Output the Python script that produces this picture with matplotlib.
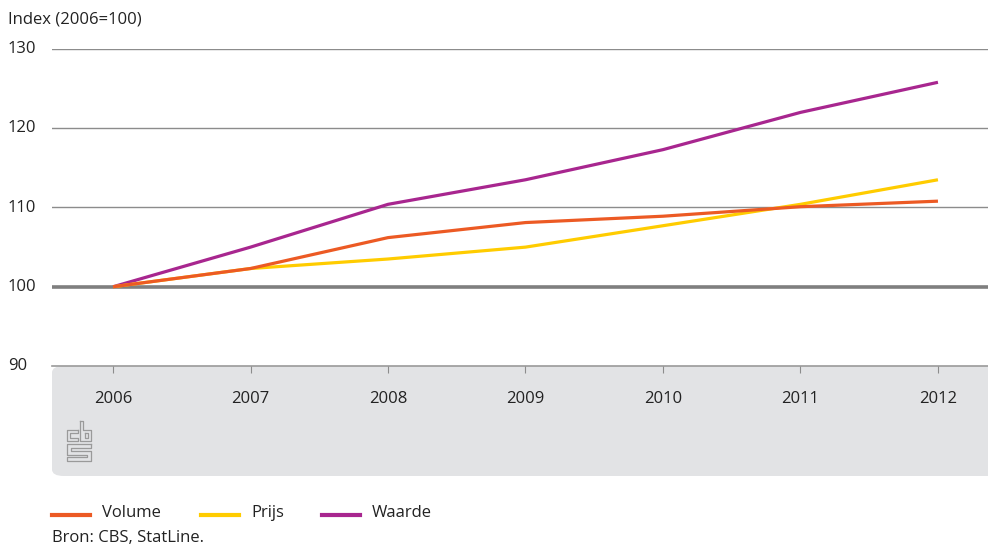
import matplotlib.pyplot as plt
from matplotlib.patches import FancyBboxPatch
from matplotlib.lines import Line2D

plt.rcParams['font.family'] = ['Open Sans', 'DejaVu Sans']
plt.rcParams['font.size'] = 12

years = [2006, 2007, 2008, 2009, 2010, 2011, 2012]
volume = [100, 102.3, 106.2, 108.1, 108.9, 110.1, 110.8]
prijs = [100, 102.3, 103.5, 105.0, 107.7, 110.4, 113.5]
waarde = [100, 105.0, 110.4, 113.5, 117.3, 122.0, 125.8]
yticks = [90, 100, 110, 120, 130]

c_volume = '#ec5a24'
c_prijs = '#ffcc00'
c_waarde = '#a8268f'
txt = '#222222'
W, H = 988, 547

fig = plt.figure(figsize=(W / 100, H / 100), dpi=100)
fig.patch.set_facecolor('white')


def px(x, y):
    # pixel position (from top-left) -> figure fraction
    return x / W, (H - y) / H


# grey band under the plot area
band = FancyBboxPatch(px(52, 476), (W - 52) / W + 0.02, 110 / H,
                      boxstyle='round,pad=0,rounding_size=0.012',
                      transform=fig.transFigure, facecolor='#e2e3e5',
                      edgecolor='none', zorder=-5)
fig.patches.append(band)

ax = fig.add_axes([52 / W, (H - 366) / H, (W - 52) / W, 317 / H])
ax.set_facecolor('none')
ax.set_xlim(2005.556, 2012.364)
ax.set_ylim(90, 130)

for y in [110, 120, 130]:
    ax.axhline(y, color='#8c8c8c', lw=1.0, zorder=1)
ax.axhline(100, color='#7f7f7f', lw=2.6, zorder=1)
ax.axhline(90, color='#9a9a9a', lw=1.2, zorder=1, clip_on=False)

ax.plot(years, waarde, color=c_waarde, lw=2.3, zorder=3, solid_capstyle='butt')
ax.plot(years, prijs, color=c_prijs, lw=2.3, zorder=3, solid_capstyle='butt')
ax.plot(years, volume, color=c_volume, lw=2.3, zorder=4, solid_capstyle='butt')

for s in ax.spines.values():
    s.set_visible(False)
ax.set_xticks(years)
ax.set_xticklabels([str(y) for y in years], fontsize=12, color=txt)
ax.tick_params(axis='x', length=5, width=0.8, color='#8c8c8c', pad=13, direction='out')
ax.set_yticks(yticks)
ax.set_yticklabels([])
ax.tick_params(axis='y', length=0)
for y in yticks:
    ax.text(8 / W, (H - 366 + (y - 90) * 317 / 40) / H, str(y), transform=fig.transFigure,
            ha='left', va='center', fontsize=12, color=txt)

fig.text(*px(8, 20), 'Index (2006=100)', ha='left', va='center', fontsize=12, color=txt)

# cbs logo, drawn as thin outlines
logo = [
    [(78, 430), (67, 430), (67, 441), (78, 441), (78, 438), (70, 438), (70, 433), (78, 433), (78, 430)],
    [(80, 421), (80, 441), (91, 441), (91, 430), (83, 430), (83, 421), (80, 421)],
    [(85, 433), (88, 433), (88, 438), (85, 438), (85, 433)],
    [(91, 444), (67, 444), (67, 455), (87, 455), (87, 457), (67, 457), (67, 461), (91, 461),
     (91, 451), (71, 451), (71, 448), (91, 448), (91, 444)],
]
for path in logo:
    xs = [p[0] / W for p in path]
    ys = [(H - p[1]) / H for p in path]
    fig.lines.append(Line2D(xs, ys, transform=fig.transFigure, color='#9a9a9a', lw=0.9))

# legend
entries = [('Volume', c_volume, 52), ('Prijs', c_prijs, 201), ('Waarde', c_waarde, 322)]
for label, col, x0 in entries:
    fig.lines.append(Line2D([x0 / W, (x0 + 38) / W], [(H - 515) / H] * 2,
                            transform=fig.transFigure, color=col, lw=3))
    fig.text(*px(x0 + 50, 513), label, ha='left', va='center', fontsize=12, color=txt)

fig.text(*px(52, 538), 'Bron: CBS, StatLine.', ha='left', va='center', fontsize=12, color=txt)

fig.savefig('out.png', dpi=100)
